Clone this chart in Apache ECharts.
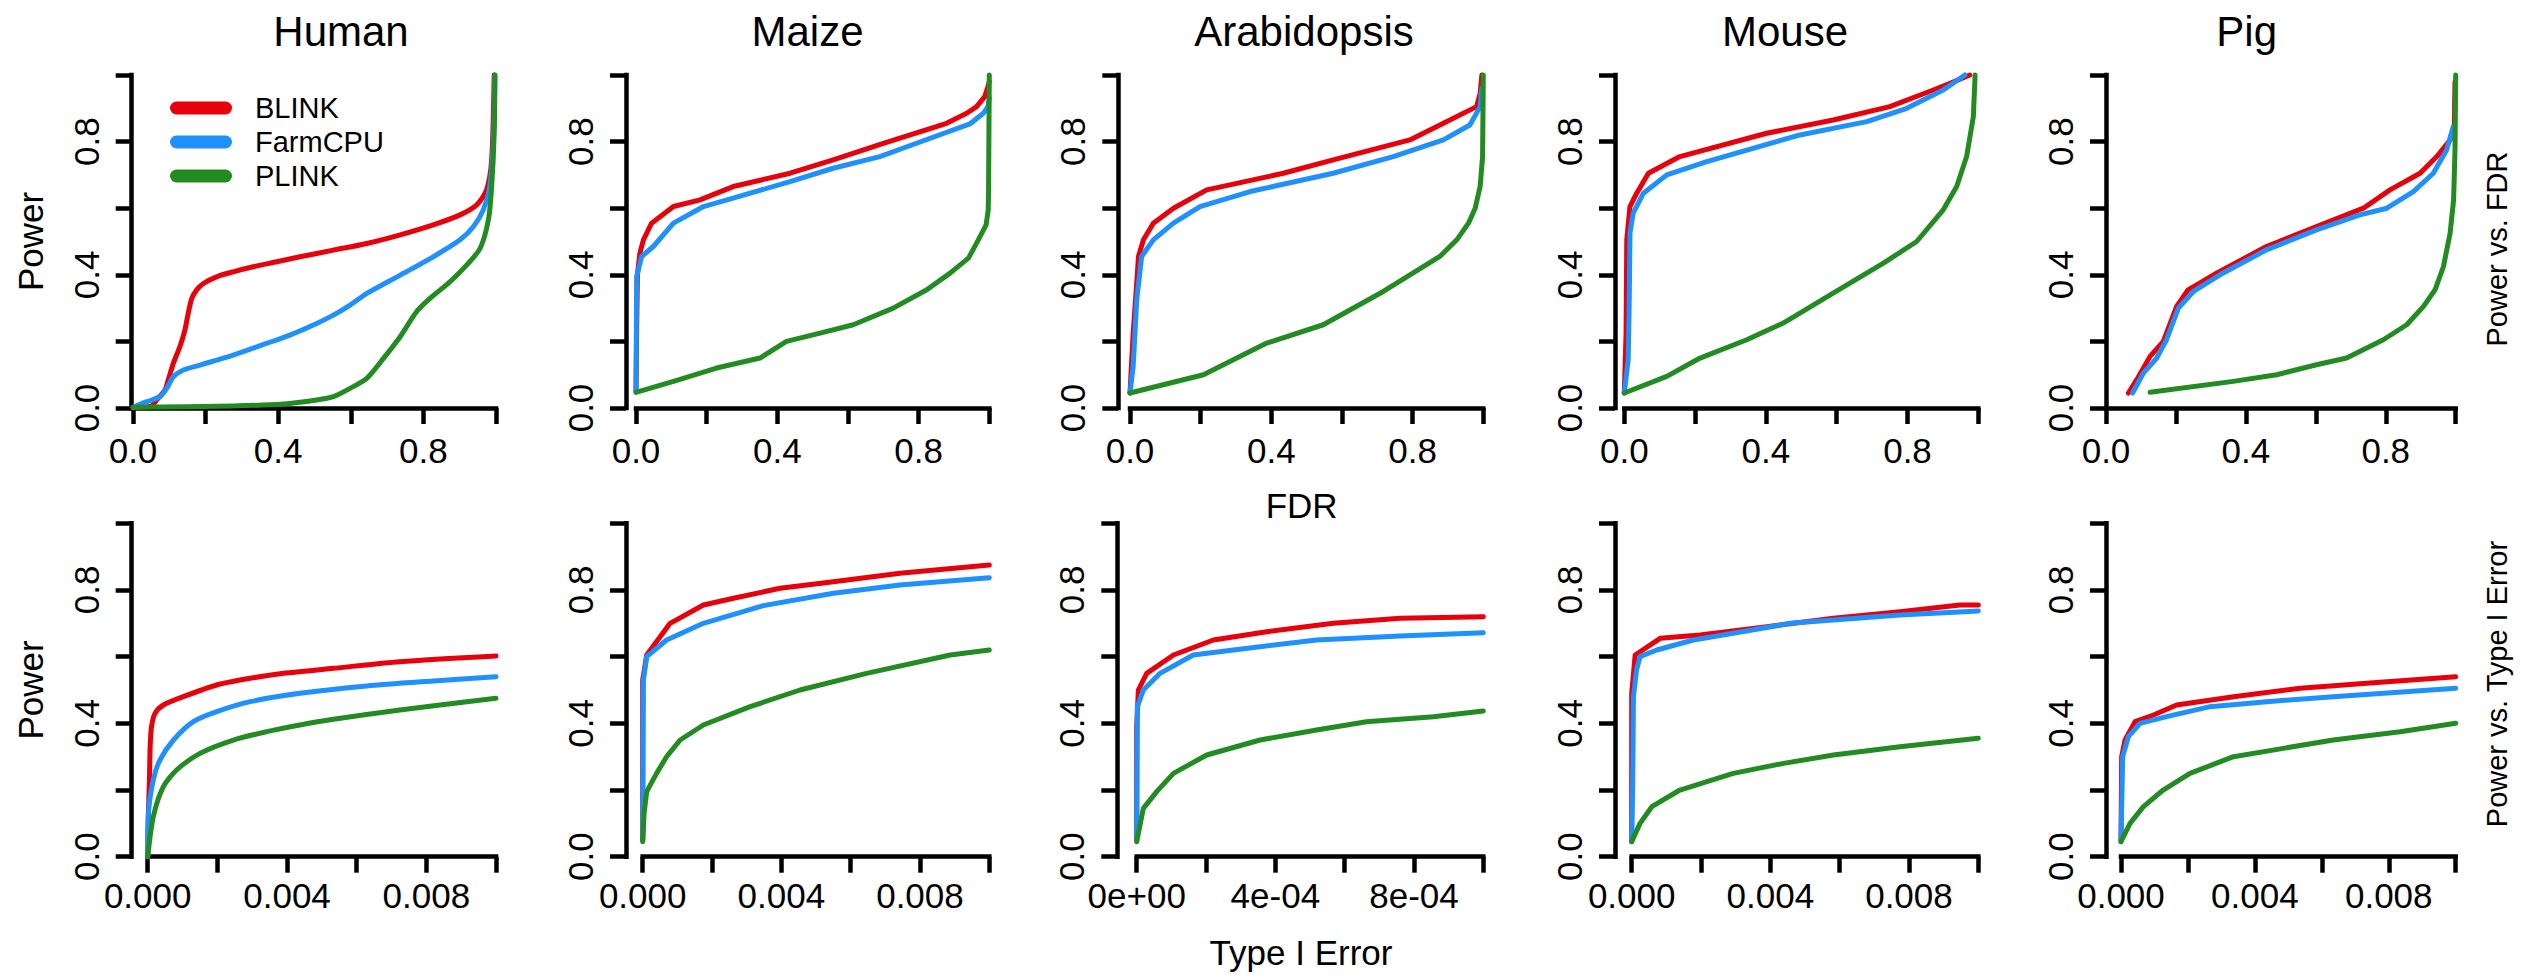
<!DOCTYPE html>
<html>
<head>
<meta charset="utf-8">
<title>Power vs. FDR and Type I Error</title>
<script src="https://cdn.jsdelivr.net/npm/echarts@6.0.0/dist/echarts.min.js"></script>
<style>
  html, body { margin: 0; padding: 0; background: #ffffff; }
  #chart { width: 2542px; height: 975px; }
</style>
</head>
<body>
<div id="chart"></div>
<script>
// ---- categories and tick labels ----
const species = ['Human', 'Maize', 'Arabidopsis', 'Mouse', 'Pig'];
const methods = ['BLINK', 'FarmCPU', 'PLINK'];
const fdrTickLabels = ['0.0', '', '0.4', '', '0.8', ''];
const powerTickLabels = ['0.0', '', '0.4', '', '0.8', ''];
const typeITickLabels = ['0.000', '', '0.004', '', '0.008', ''];
const typeISmallTickLabels = ['0e+00', '', '4e-04', '', '8e-04', ''];
const fdrAxisMax = [1, 1, 1, 1, 1];
const typeIAxisMax = [0.01, 0.01, 0.001, 0.01, 0.01];

// ---- power vs. FDR curves, [FDR, power] ----
const humanFdrBlink = [[0,0],[0.05,0.006],[0.065,0.024],[0.088,0.054],[0.097,0.084],[0.111,0.134],[0.129,0.184],[0.143,0.234],[0.152,0.284],[0.162,0.329],[0.175,0.354],[0.194,0.374],[0.23,0.394],[0.276,0.409],[0.331,0.424],[0.396,0.439],[0.46,0.454],[0.552,0.474],[0.644,0.494],[0.736,0.52],[0.827,0.55],[0.901,0.58],[0.947,0.61],[0.974,0.655],[0.988,0.745],[0.995,1.0]];
const humanFdrFarmcpu = [[0,0.002],[0.038,0.019],[0.074,0.034],[0.093,0.059],[0.111,0.094],[0.139,0.114],[0.185,0.129],[0.276,0.159],[0.368,0.194],[0.432,0.219],[0.506,0.254],[0.552,0.279],[0.598,0.309],[0.644,0.344],[0.736,0.399],[0.827,0.454],[0.901,0.505],[0.938,0.545],[0.965,0.595],[0.983,0.665],[0.993,0.805],[0.997,1.0]];
const humanFdrPlink = [[0,0.002],[0.276,0.006],[0.414,0.012],[0.506,0.024],[0.552,0.034],[0.598,0.059],[0.644,0.089],[0.69,0.149],[0.736,0.214],[0.781,0.289],[0.818,0.329],[0.873,0.379],[0.919,0.429],[0.956,0.479],[0.979,0.565],[0.988,0.665],[0.995,0.825],[0.997,1.0]];

const maizeFdrBlink = [[0,0.05],[0.002,0.25],[0.004,0.4],[0.011,0.465],[0.021,0.505],[0.044,0.555],[0.106,0.605],[0.181,0.625],[0.275,0.665],[0.436,0.705],[0.558,0.745],[0.7,0.795],[0.879,0.855],[0.936,0.885],[0.964,0.905],[0.987,0.935],[0.996,0.965],[1.0,0.98]];
const maizeFdrFarmcpu = [[0,0.05],[0.002,0.395],[0.016,0.455],[0.049,0.485],[0.106,0.555],[0.191,0.605],[0.275,0.63],[0.436,0.68],[0.558,0.72],[0.69,0.755],[0.794,0.795],[0.945,0.853],[0.983,0.885],[0.996,0.905],[1.0,0.93]];
const maizeFdrPlink = [[0,0.047],[0.106,0.08],[0.228,0.12],[0.351,0.15],[0.426,0.2],[0.521,0.225],[0.615,0.25],[0.728,0.3],[0.823,0.355],[0.889,0.405],[0.941,0.45],[0.969,0.505],[0.991,0.55],[0.997,0.595],[0.998,0.665],[1.0,1.0]];

const arabFdrBlink = [[0,0.045],[0.009,0.225],[0.019,0.375],[0.024,0.455],[0.038,0.505],[0.066,0.555],[0.123,0.6],[0.217,0.655],[0.434,0.705],[0.575,0.745],[0.792,0.805],[0.887,0.855],[0.981,0.905],[0.991,0.945],[0.996,1.0]];
const arabFdrFarmcpu = [[0,0.045],[0.009,0.125],[0.019,0.325],[0.033,0.455],[0.066,0.505],[0.123,0.555],[0.198,0.605],[0.34,0.65],[0.575,0.705],[0.745,0.755],[0.887,0.805],[0.962,0.85],[0.991,0.905],[0.996,0.96]];
const arabFdrPlink = [[0,0.045],[0.208,0.1],[0.387,0.195],[0.547,0.25],[0.717,0.35],[0.877,0.455],[0.925,0.505],[0.958,0.555],[0.977,0.6],[0.991,0.665],[0.998,0.755],[1.0,1.0]];

const mouseFdrBlink = [[0,0.045],[0.005,0.225],[0.007,0.505],[0.016,0.605],[0.035,0.645],[0.068,0.705],[0.157,0.755],[0.402,0.825],[0.59,0.865],[0.75,0.905],[0.873,0.955],[0.92,0.975],[0.976,1.0]];
const mouseFdrFarmcpu = [[0,0.045],[0.011,0.145],[0.014,0.325],[0.016,0.525],[0.025,0.585],[0.054,0.645],[0.12,0.7],[0.233,0.74],[0.496,0.82],[0.685,0.86],[0.798,0.9],[0.901,0.955],[0.962,1.0]];
const mouseFdrPlink = [[0,0.045],[0.12,0.095],[0.214,0.15],[0.346,0.205],[0.449,0.255],[0.59,0.345],[0.732,0.435],[0.826,0.5],[0.901,0.595],[0.939,0.665],[0.967,0.755],[0.986,0.875],[0.991,1.0]];

const pigFdrBlink = [[0.064,0.045],[0.088,0.085],[0.126,0.155],[0.164,0.2],[0.202,0.305],[0.235,0.355],[0.316,0.405],[0.459,0.485],[0.602,0.545],[0.736,0.6],[0.812,0.655],[0.898,0.705],[0.946,0.755],[0.984,0.805],[0.996,0.845],[0.998,0.98]];
const pigFdrFarmcpu = [[0.076,0.045],[0.107,0.105],[0.145,0.15],[0.173,0.205],[0.207,0.3],[0.25,0.35],[0.326,0.4],[0.459,0.475],[0.602,0.535],[0.726,0.58],[0.803,0.6],[0.879,0.65],[0.936,0.705],[0.974,0.775],[0.993,0.845]];
const pigFdrPlink = [[0.126,0.047],[0.364,0.08],[0.488,0.1],[0.602,0.13],[0.688,0.15],[0.793,0.205],[0.86,0.25],[0.908,0.305],[0.941,0.355],[0.965,0.425],[0.984,0.525],[0.994,0.625],[0.998,0.775],[1.0,1.0]];

// ---- power vs. type I error curves, [type I error, power] ----
const humanT1Blink = [[0,0],[0.00002,0.13],[0.00005,0.23],[0.00007,0.33],[0.00011,0.39],[0.00021,0.43],[0.00045,0.455],[0.00102,0.48],[0.00198,0.515],[0.00294,0.535],[0.0039,0.55],[0.00533,0.565],[0.00724,0.585],[0.01,0.602]];
const humanT1Farmcpu = [[0,0],[0.00002,0.13],[0.00016,0.23],[0.00035,0.29],[0.00074,0.35],[0.00131,0.405],[0.00198,0.435],[0.00294,0.465],[0.00437,0.49],[0.00629,0.512],[0.0082,0.527],[0.01,0.54]];
const humanT1Plink = [[0,0],[0.00016,0.12],[0.00045,0.21],[0.00083,0.26],[0.0015,0.31],[0.00246,0.35],[0.00342,0.375],[0.00437,0.395],[0.00533,0.412],[0.00724,0.44],[0.01,0.475]];

const maizeT1Blink = [[0,0.05],[0,0.53],[0.000115,0.605],[0.00079,0.7],[0.00175,0.755],[0.00262,0.775],[0.00396,0.805],[0.0055,0.825],[0.00742,0.85],[0.01,0.875]];
const maizeT1Farmcpu = [[0,0.05],[0.00002,0.53],[0.000115,0.6],[0.00069,0.65],[0.00175,0.7],[0.00348,0.753],[0.0055,0.79],[0.00742,0.815],[0.01,0.837]];
const maizeT1Plink = [[0,0.045],[0.00004,0.13],[0.000115,0.195],[0.0004,0.25],[0.00069,0.3],[0.00108,0.35],[0.00175,0.395],[0.0031,0.45],[0.00454,0.5],[0.00646,0.55],[0.00887,0.605],[0.01,0.62]];

const arabT1Blink = [[0,0.05],[0,0.39],[0.0000048,0.5],[0.0000288,0.55],[0.000106,0.605],[0.000221,0.65],[0.000375,0.675],[0.000567,0.7],[0.00076,0.715],[0.001,0.72]];
const arabT1Farmcpu = [[0,0.05],[0.0000019,0.45],[0.0000192,0.5],[0.0000673,0.55],[0.000163,0.605],[0.000279,0.62],[0.000519,0.65],[0.00076,0.662],[0.001,0.672]];
const arabT1Plink = [[0,0.045],[0.0000192,0.145],[0.0000577,0.195],[0.000106,0.25],[0.000202,0.305],[0.000356,0.35],[0.000519,0.38],[0.000663,0.405],[0.000856,0.42],[0.001,0.437]];

const mouseT1Blink = [[0,0.05],[0,0.49],[0.0001,0.605],[0.00082,0.655],[0.00197,0.665],[0.0039,0.69],[0.00582,0.715],[0.00774,0.735],[0.00947,0.755],[0.01,0.755]];
const mouseT1Farmcpu = [[0,0.045],[0.00003,0.23],[0.00005,0.48],[0.00014,0.56],[0.00024,0.6],[0.00072,0.62],[0.00178,0.65],[0.00293,0.67],[0.00457,0.7],[0.00582,0.71],[0.00774,0.725],[0.01,0.737]];
const mouseT1Plink = [[0,0.045],[0.00024,0.1],[0.00058,0.15],[0.00139,0.2],[0.00293,0.25],[0.00438,0.28],[0.00582,0.305],[0.00774,0.33],[0.01,0.355]];

const pigT1Blink = [[0,0.05],[0.00002,0.3],[0.00012,0.35],[0.00042,0.405],[0.00097,0.425],[0.00166,0.455],[0.00336,0.48],[0.00535,0.505],[0.00734,0.52],[0.01,0.54]];
const pigT1Farmcpu = [[0,0.045],[0.00005,0.3],[0.00022,0.36],[0.00057,0.4],[0.00136,0.42],[0.00266,0.45],[0.00435,0.465],[0.00634,0.48],[0.01,0.505]];
const pigT1Plink = [[0,0.045],[0.00027,0.1],[0.00067,0.15],[0.00126,0.2],[0.00206,0.25],[0.00336,0.3],[0.00485,0.325],[0.00634,0.35],[0.00834,0.375],[0.01,0.4]];

// ---- layout (pixels) ----
const FONT = "'Liberation Sans', Arial, Helvetica, sans-serif";
const lineColors = ['#e8000b', '#1e90ff', '#228b22'];
// axisX: position of the y-axis line; x0/x1: pixel of the first/last x tick
const topPanels = [
  { axisX: 131.7, x0: 133, x1: 496 },
  { axisX: 626, x0: 636, x1: 989.3 },
  { axisX: 1118.3, x0: 1130, x1: 1483.3 },
  { axisX: 1615, x0: 1624.3, x1: 1978.3 },
  { axisX: 2106, x0: 2106, x1: 2455.7 }
];
const bottomPanels = [
  { axisX: 131.7, x0: 147.7, x1: 496 },
  { axisX: 626, x0: 642.7, x1: 989.3 },
  { axisX: 1117.3, x0: 1136.7, x1: 1483.3 },
  { axisX: 1615, x0: 1631.7, x1: 1978.3 },
  { axisX: 2106, x0: 2121, x1: 2455.7 }
];
const titleCenters = [341, 807.5, 1304, 1785, 2246.7];

const fdrCurves = [
  [humanFdrBlink, humanFdrFarmcpu, humanFdrPlink],
  [maizeFdrBlink, maizeFdrFarmcpu, maizeFdrPlink],
  [arabFdrBlink, arabFdrFarmcpu, arabFdrPlink],
  [mouseFdrBlink, mouseFdrFarmcpu, mouseFdrPlink],
  [pigFdrBlink, pigFdrFarmcpu, pigFdrPlink]
];
const typeICurves = [
  [humanT1Blink, humanT1Farmcpu, humanT1Plink],
  [maizeT1Blink, maizeT1Farmcpu, maizeT1Plink],
  [arabT1Blink, arabT1Farmcpu, arabT1Plink],
  [mouseT1Blink, mouseT1Farmcpu, mouseT1Plink],
  [pigT1Blink, pigT1Farmcpu, pigT1Plink]
];

const rows = [
  {
    top: 75, bottom: 408, panels: topPanels, curves: fdrCurves,
    xMax: fdrAxisMax, xInterval: [0.2, 0.2, 0.2, 0.2, 0.2],
    xLabels: [fdrTickLabels, fdrTickLabels, fdrTickLabels, fdrTickLabels, fdrTickLabels],
    xLabelMargin: 25, xName: 'FDR', xNameGap: 80, xNameShift: 10
  },
  {
    top: 523.3, bottom: 856.7, panels: bottomPanels, curves: typeICurves,
    xMax: typeIAxisMax, xInterval: [0.002, 0.002, 0.0002, 0.002, 0.002],
    xLabels: [typeITickLabels, typeITickLabels, typeISmallTickLabels, typeITickLabels, typeITickLabels],
    xLabelMargin: 21, xName: 'Type I Error', xNameGap: 78, xNameShift: 18
  }
];

const axisLineStyle = { color: '#000', width: 4.5, cap: 'square' };
const grids = [], xAxes = [], yAxes = [], series = [];

rows.forEach((row) => {
  row.panels.forEach((p, c) => {
    const gi = grids.length;
    grids.push({
      left: p.x0, top: row.top,
      width: p.x1 - p.x0, height: row.bottom - row.top,
      containLabel: false
    });
    const labels = row.xLabels[c];
    const xAxis = {
      type: 'value', gridIndex: gi, min: 0, max: row.xMax[c], interval: row.xInterval[c],
      axisLine: { show: true, onZero: false, lineStyle: axisLineStyle },
      axisTick: { show: true, length: 16, lineStyle: { color: '#000', width: 4.5 } },
      axisLabel: {
        margin: row.xLabelMargin, fontSize: 35, fontFamily: FONT, color: '#000',
        formatter: (v, k) => labels[k]
      },
      splitLine: { show: false }
    };
    if (c === 2) {
      xAxis.name = row.xName;
      xAxis.nameLocation = 'middle';
      xAxis.nameGap = row.xNameGap;
      xAxis.nameTextStyle = {
        fontSize: 35, fontFamily: FONT, color: '#000',
        padding: [0, row.xNameShift, 0, 0]
      };
    }
    xAxes.push(xAxis);

    const yAxis = {
      type: 'value', gridIndex: gi, min: 0, max: 1, interval: 0.2,
      offset: p.x0 - p.axisX,
      axisLine: { show: true, onZero: false, lineStyle: axisLineStyle },
      axisTick: { show: true, length: 16, lineStyle: { color: '#000', width: 4.5 } },
      axisLabel: {
        rotate: 90, margin: 28, fontSize: 35, fontFamily: FONT, color: '#000',
        formatter: (v, k) => powerTickLabels[k]
      },
      splitLine: { show: false }
    };
    if (c === 0) {
      yAxis.name = 'Power';
      yAxis.nameLocation = 'middle';
      yAxis.nameRotate = 90;
      yAxis.nameGap = 84;
      yAxis.nameTextStyle = { fontSize: 35, fontFamily: FONT, color: '#000' };
    }
    yAxes.push(yAxis);

    row.curves[c].forEach((curve, m) => {
      series.push({
        name: methods[m], type: 'line',
        xAxisIndex: gi, yAxisIndex: gi,
        data: curve,
        showSymbol: false, symbol: 'none', clip: false,
        smooth: c === 0 ? 0.25 : false,
        lineStyle: { width: 5, color: lineColors[m], cap: 'round', join: 'round' },
        itemStyle: { color: lineColors[m] },
        z: 2 + m
      });
    });
  });
});

const titles = species.map((s, c) => ({
  text: s, left: titleCenters[c], top: 10, textAlign: 'center', padding: 0,
  textStyle: { fontSize: 42, fontWeight: 'normal', fontFamily: FONT, color: '#000' }
}));

const sideLabel = (text, x, y) => ({
  type: 'text', x: x, y: y, rotation: Math.PI / 2,
  style: {
    text: text, fontSize: 29, fontFamily: FONT, fill: '#000',
    align: 'center', verticalAlign: 'middle',
    textAlign: 'center', textVerticalAlign: 'middle'
  }
});

const chart = echarts.init(document.getElementById('chart'), null, { renderer: 'svg' });
chart.setOption({
  animation: false,
  backgroundColor: '#ffffff',
  title: titles,
  legend: {
    data: methods, orient: 'vertical', left: 170, top: 93, padding: 0,
    itemGap: 4, itemWidth: 62, itemHeight: 13,
    icon: 'path://M6.5,0 L55.5,0 A6.5,6.5 0 0 1 55.5,13 L6.5,13 A6.5,6.5 0 0 1 6.5,0 Z',
    itemStyle: { borderWidth: 0 },
    textStyle: { fontSize: 29, fontFamily: FONT, color: '#000', lineHeight: 30, padding: [0, 0, 0, 18] }
  },
  grid: grids,
  xAxis: xAxes,
  yAxis: yAxes,
  series: series,
  graphic: [
    sideLabel('Power vs. FDR', 2497, 249),
    sideLabel('Power vs. Type I Error', 2497, 684)
  ]
});
</script>
</body>
</html>
